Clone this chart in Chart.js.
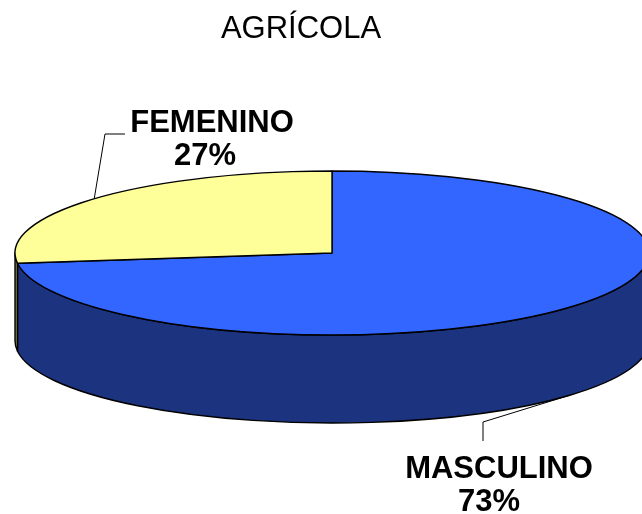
<!DOCTYPE html>
<html>
<head>
<meta charset="utf-8">
<script src="https://cdn.jsdelivr.net/npm/chart.js@4/dist/chart.umd.min.js"></script>
<style>
  body { margin: 0; background: #fff; }
  canvas { display: block; }
</style>
</head>
<body>
<canvas id="pieCanvas" width="642" height="514"></canvas>
<script>
const categories = ["MASCULINO", "FEMENINO"];
const shares = [73, 27];
const topColors = ["#3366FF", "#FFFF99"];
const sideColors = ["#1C3480", "#80804D"];

// where each label block sits and how its leader line bends
const labelSpots = [
    {nameX: 499, nameY: 478, pctX: 489, pctY: 511, leader: [[483, 441], [483, 422]], onSide: true},
    {nameX: 212, nameY: 132, pctX: 205, pctY: 165, leader: [[125, 134], [105, 134]], onSide: false}
];

const disc = {cx: 332, cy: 253, rx: 317, ry: 82, depth: 88};

function sidePath(ctx, a, b){
    ctx.beginPath();
    ctx.ellipse(disc.cx, disc.cy, disc.rx, disc.ry, 0, a, b);
    ctx.lineTo(disc.cx + disc.rx * Math.cos(b), disc.cy + disc.depth + disc.ry * Math.sin(b));
    ctx.ellipse(disc.cx, disc.cy + disc.depth, disc.rx, disc.ry, 0, b, a, true);
    ctx.closePath();
}

// the front half of the rim (0..PI) is the only part that shows
function visibleRange(start, end){
    for(let shift of [0, -2 * Math.PI, 2 * Math.PI]){
        let a = Math.max(start + shift, 0);
        let b = Math.min(end + shift, Math.PI);
        if(b > a) return [a, b];
    }
    return null;
}

const pie3d = {
    id: "pie3d",
    beforeDatasetsDraw(chart){
        let ctx = chart.ctx;
        let arcs = chart.getDatasetMeta(0).data;
        ctx.save();
        ctx.lineWidth = 1.4;
        ctx.strokeStyle = "#000";
        ctx.lineJoin = "round";

        arcs.forEach((arc, i) => {
            let range = visibleRange(arc.startAngle, arc.endAngle);
            if(!range) return;
            sidePath(ctx, range[0], range[1]);
            ctx.fillStyle = sideColors[i];
            ctx.fill();
            ctx.stroke();
        });

        arcs.forEach((arc, i) => {
            ctx.beginPath();
            ctx.moveTo(disc.cx, disc.cy);
            ctx.ellipse(disc.cx, disc.cy, disc.rx, disc.ry, 0, arc.startAngle, arc.endAngle);
            ctx.closePath();
            ctx.fillStyle = topColors[i];
            ctx.fill();
            ctx.stroke();
        });
        ctx.restore();
        return false;
    },
    afterDraw(chart){
        let ctx = chart.ctx;
        let arcs = chart.getDatasetMeta(0).data;
        let total = shares.reduce((s, v) => s + v, 0);
        ctx.save();
        arcs.forEach((arc, i) => {
            let spot = labelSpots[i];
            let mid = (arc.startAngle + arc.endAngle) / 2;
            let ax = disc.cx + disc.rx * Math.cos(mid);
            let ay = disc.cy + disc.ry * Math.sin(mid) + (spot.onSide ? disc.depth : 0);

            ctx.beginPath();
            ctx.moveTo(spot.leader[0][0], spot.leader[0][1]);
            ctx.lineTo(spot.leader[1][0], spot.leader[1][1]);
            ctx.lineTo(ax, ay);
            ctx.strokeStyle = "#000";
            ctx.lineWidth = 1;
            ctx.stroke();

            ctx.fillStyle = "#000";
            ctx.font = "bold 31px 'Liberation Sans', Arial, sans-serif";
            ctx.textAlign = "center";
            ctx.textBaseline = "alphabetic";
            ctx.fillText(categories[i], spot.nameX, spot.nameY);
            ctx.fillText(Math.round(shares[i] / total * 100) + "%", spot.pctX, spot.pctY);
        });
        ctx.restore();
    }
};

Chart.defaults.font.family = "'Liberation Sans', Arial, sans-serif";

new Chart(document.getElementById("pieCanvas"), {
    type: "pie",
    data: {
        labels: categories,
        datasets: [{
            data: shares,
            backgroundColor: topColors
        }]
    },
    options: {
        responsive: false,
        animation: false,
        rotation: 0,
        layout: {padding: {right: 40}},
        plugins: {
            legend: {display: false},
            tooltip: {enabled: false},
            title: {
                display: true,
                text: "AGRÍCOLA",
                color: "#000",
                font: {size: 31, weight: "normal"},
                padding: {top: 11, bottom: 0}
            }
        }
    },
    plugins: [pie3d]
});
</script>
</body>
</html>
